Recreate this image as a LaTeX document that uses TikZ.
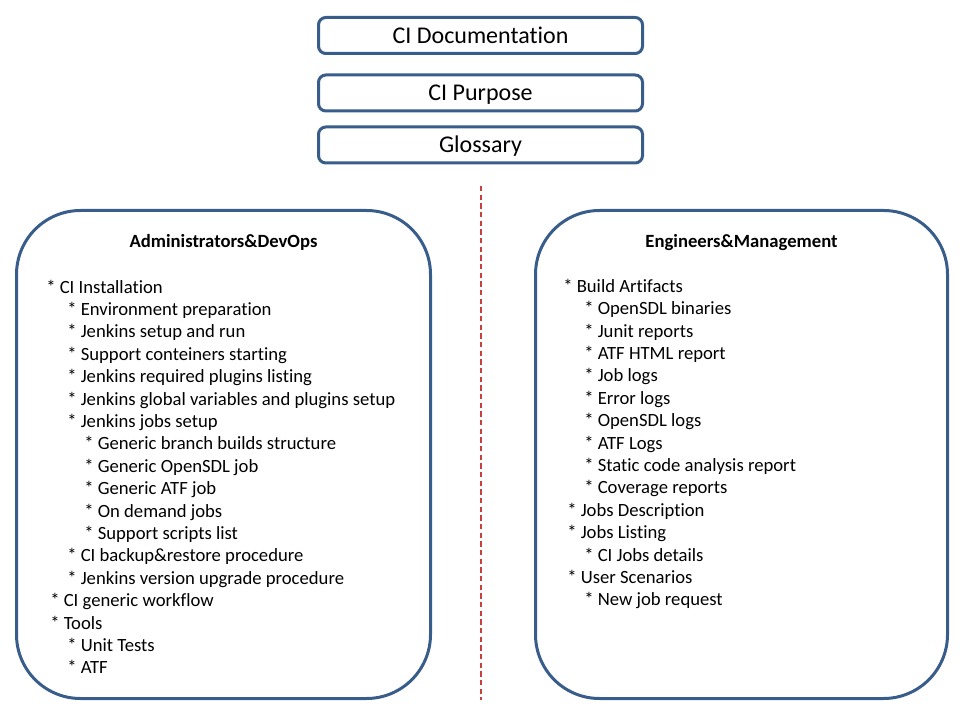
\documentclass[tikz,border=0pt]{standalone}
\usepackage{fontspec}
\setmainfont{Carlito}[Ligatures={NoCommon,TeX}]
\definecolor{boxblue}{HTML}{385D8A}
\definecolor{splitred}{HTML}{C8403C}
\tikzset{
  topbox/.style={draw=boxblue, line width=2.25pt, rounded corners=5.5pt,
    minimum width=243pt, minimum height=27pt, inner sep=0pt,
    text height=11.6pt, text depth=0pt, font=\fontsize{18}{21.6}\selectfont},
  groupbox/.style={draw=boxblue, line width=2.25pt, rounded corners=48pt},
  grouptitle/.style={anchor=base, inner sep=0pt, font=\fontsize{14}{16.8}\selectfont\bfseries},
  item/.style={anchor=base west, inner sep=0pt, font=\fontsize{14}{16.8}\selectfont}
}
\begin{document}
\begin{tikzpicture}[x=0.75pt, y=-0.75pt] % one unit is one pixel of the slide
  \useasboundingbox (0,0) rectangle (960,720);

  % Top boxes
  \node[topbox] (doc) at (480.5,35.5) {CI Documentation};
  \node[topbox] (purpose) at (480.5,93) {CI Purpose};
  \node[topbox] (glossary) at (480.5,145) {Glossary};

  % Separator
  \coordinate (splittop) at (481,186);
  \coordinate (splitbot) at (481,700);
  \draw[splitred, line width=0.9pt, dash pattern=on 4pt off 2.5pt] (splittop) -- (splitbot);

  % Left group
  \draw[groupbox] (16.5,210.5) rectangle (430.5,698.5);
  \node[grouptitle] (admtitle) at (223.5,247.5) {Administrators\&DevOps};
  \foreach \xx/\txt [count=\i] in {
      46/CI Installation,
      67/Environment preparation,
      67/Jenkins setup and run,
      67/Support conteiners starting,
      67/Jenkins required plugins listing,
      67/Jenkins global variables and plugins setup,
      67/Jenkins jobs setup,
      84/Generic branch builds structure,
      84/Generic OpenSDL job,
      84/Generic ATF job,
      84/On demand jobs,
      84/Support scripts list,
      67/CI backup\&restore procedure,
      67/Jenkins version upgrade procedure,
      50/CI generic workflow,
      50/Tools,
      67/Unit Tests,
      67/ATF}
    \node[item] (adm\i) at (\xx,{293+22.4*(\i-1)}) {* \txt};

  % Right group
  \draw[groupbox] (535.5,210.5) rectangle (947.5,698.5);
  \node[grouptitle] (engtitle) at (741.5,247.5) {Engineers\&Management};
  \foreach \xx/\txt [count=\i] in {
      563/Build Artifacts,
      584/OpenSDL binaries,
      584/Junit reports,
      584/ATF HTML report,
      584/Job logs,
      584/Error logs,
      584/OpenSDL logs,
      584/ATF Logs,
      584/Static code analysis report,
      584/Coverage reports,
      567/Jobs Description,
      567/Jobs Listing,
      584/CI Jobs details,
      567/User Scenarios,
      584/New job request}
    \node[item] (eng\i) at (\xx,{292.3+22.4*(\i-1)}) {* \txt};
\end{tikzpicture}
\end{document}
